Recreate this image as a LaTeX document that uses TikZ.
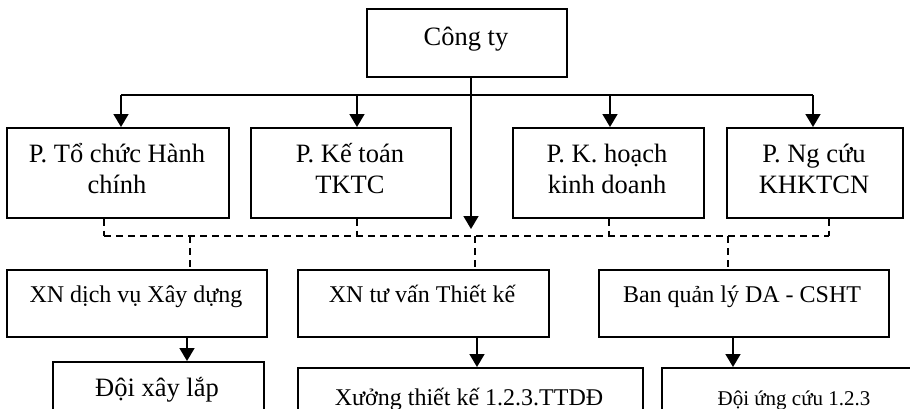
\documentclass[tikz,border=0pt]{standalone}
\usepackage{fontspec}
\setmainfont{Liberation Serif}
\usetikzlibrary{arrows.meta}
\tikzset{
  x=1pt, y=-1pt,
  boxst/.style={draw, line width=1.6pt, inner sep=0pt, anchor=north west},
  txt/.style={anchor=base, align=center, inner sep=0pt, font=\fontsize{26.5}{31}\selectfont},
  txtsm/.style={txt, font=\fontsize{24}{29}\selectfont},
  txtxs/.style={txt, font=\fontsize{21}{25}\selectfont},
  conn/.style={line width=1.6pt},
  arr/.style={line width=1.6pt, -{Triangle[width=15pt,length=13pt]}},
  dsh/.style={line width=1.6pt, dash pattern=on 7pt off 5pt},
}
\begin{document}
\begin{tikzpicture}
\useasboundingbox (0,0) rectangle (910,408);
\clip (0,0) rectangle (910,408);
% top
\node[boxst, minimum width=200pt, minimum height=68pt] (cty) at (366,8) {};
\node[txt] (tcty) at (466,45) {Công ty};
% departments
\node[boxst, minimum width=222pt, minimum height=90pt] (p1) at (6,127) {};
\node[boxst, minimum width=200pt, minimum height=90pt] (p2) at (250,127) {};
\node[boxst, minimum width=191pt, minimum height=90pt] (p3) at (512,127) {};
\node[boxst, minimum width=176pt, minimum height=90pt] (p4) at (726,127) {};
\node[txt] (tp1) at (117,193) {P. Tổ chức Hành\\chính};
\node[txt] (tp2) at (350,193) {P. Kế toán\\TKTC};
\node[txt] (tp3) at (607,193) {P. K. hoạch\\kinh doanh};
\node[txt] (tp4) at (814,193) {P. Ng cứu\\KHKTCN};
% enterprises
\node[boxst, minimum width=260pt, minimum height=67pt] (x1) at (6,269) {};
\node[boxst, minimum width=251pt, minimum height=67pt] (x2) at (297,269) {};
\node[boxst, minimum width=290pt, minimum height=67pt] (x3) at (598,269) {};
\node[txtsm] (tx1) at (136,302) {XN dịch vụ Xây dựng};
\node[txtsm] (tx2) at (422,302) {XN tư vấn Thiết kế};
\node[txtsm] (tx3) at (742,302) {Ban quản lý DA - CSHT};
% bottom units
\node[boxst, minimum width=211pt, minimum height=80pt] (b1) at (52,361) {};
\node[boxst, minimum width=345pt, minimum height=80pt] (b2) at (297,367) {};
\node[boxst, minimum width=266pt, minimum height=80pt] (b3) at (661,367) {};
\node[txt] (tb1) at (157,396) {Đội xây lắp};
\node[txtsm] (tb2) at (469,405) {Xưởng thiết kế 1.2.3.TTDĐ};
\node[txtxs] (tb3) at (794,405) {Đội ứng cứu 1.2.3};
% coordinates
\coordinate (v) at (471,229);
\coordinate (h1) at (121,95);
\coordinate (h2) at (357,95);
\coordinate (h3) at (610,95);
\coordinate (h4) at (813,95);
\coordinate (d1) at (104,236);
\coordinate (d2) at (357,236);
\coordinate (d3) at (609,236);
\coordinate (d4) at (829,236);
\coordinate (e1) at (190,236);
\coordinate (e2) at (475,236);
\coordinate (e3) at (728,236);
\coordinate (f1) at (187,0);
\coordinate (f2) at (477,0);
\coordinate (f3) at (733,0);
% solid connectors
\draw[arr] (cty.south -| v) -- (v);
\draw[conn] (h1) -- (h4);
\draw[arr] (h1) -- (p1.north -| h1);
\draw[arr] (h2) -- (p2.north -| h2);
\draw[arr] (h3) -- (p3.north -| h3);
\draw[arr] (h4) -- (p4.north -| h4);
% dashed connectors
\draw[dsh] (d1) -- (d4);
\draw[dsh] (p1.south -| d1) -- (d1);
\draw[dsh] (p2.south -| d2) -- (d2);
\draw[dsh] (p3.south -| d3) -- (d3);
\draw[dsh] (p4.south -| d4) -- (d4);
\draw[dsh] (e1) -- (x1.north -| e1);
\draw[dsh] (e2) -- (x2.north -| e2);
\draw[dsh] (e3) -- (x3.north -| e3);
% lower arrows
\draw[arr] (x1.south -| f1) -- (b1.north -| f1);
\draw[arr] (x2.south -| f2) -- (b2.north -| f2);
\draw[arr] (x3.south -| f3) -- (b3.north -| f3);
\end{tikzpicture}
\end{document}
